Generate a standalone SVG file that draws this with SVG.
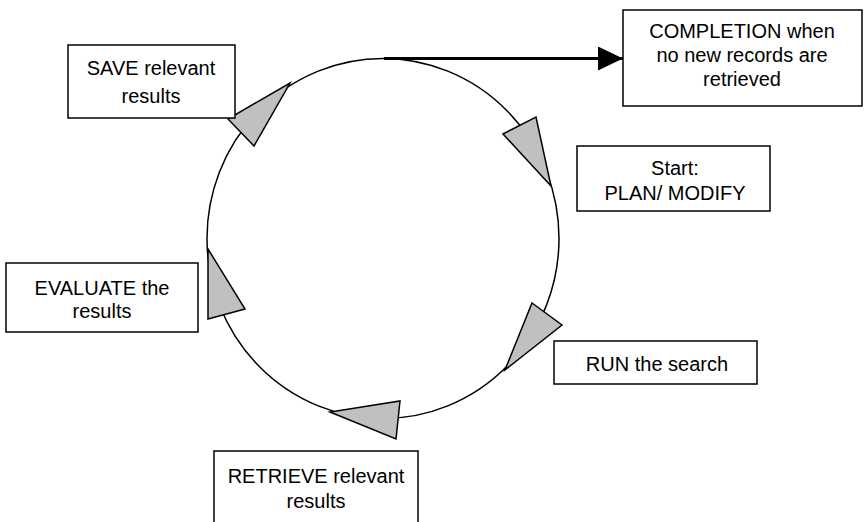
<svg xmlns="http://www.w3.org/2000/svg" width="864" height="522" viewBox="0 0 864 522">
<style>
.box{fill:#fff;stroke:#000;stroke-width:1.5}
.tri{fill:#c0c0c0;stroke:#000;stroke-width:1.5;stroke-linejoin:miter}
text{font-family:"Liberation Sans","Arial",sans-serif;font-size:20px;fill:#000;text-anchor:middle}
</style>
<defs>
<marker id="ah" markerWidth="26" markerHeight="26" refX="25" refY="12" orient="auto" markerUnits="userSpaceOnUse">
<path d="M0,0 L25,12 L0,24 Z" fill="#000"/>
</marker>
</defs>
<rect width="864" height="522" fill="#fff"/>
<g id="connectors">
<ellipse cx="383" cy="238.5" rx="176" ry="180" fill="none" stroke="#000" stroke-width="1.5"/>
<line x1="384" y1="58.5" x2="623" y2="58.5" stroke="#000" stroke-width="3" marker-end="url(#ah)"/>
<polygon class="tri" points="228,119 290,83 254,146"/>
<polygon class="tri" points="503,134 536,117 551,186"/>
<polygon class="tri" points="532,303 562,325 505,370"/>
<polygon class="tri" points="400,401 396,439 330,412"/>
<polygon class="tri" points="208,249 245,309 208,319"/>
</g>
<g id="completion">
<rect class="box" x="623" y="10" width="239" height="96"/>
<text x="742" y="38">COMPLETION when</text>
<text x="742" y="62">no new records are</text>
<text x="742" y="86">retrieved</text>
</g>
<g id="start">
<rect class="box" x="577" y="146" width="193" height="65"/>
<text x="675" y="175">Start:</text>
<text x="675" y="200">PLAN/ MODIFY</text>
</g>
<g id="run">
<rect class="box" x="554" y="341" width="203" height="43"/>
<text x="657" y="371">RUN the search</text>
</g>
<g id="retrieve">
<rect class="box" x="214" y="451" width="204" height="80"/>
<text x="316" y="483">RETRIEVE relevant</text>
<text x="316" y="508">results</text>
</g>
<g id="evaluate">
<rect class="box" x="6" y="263" width="192" height="69"/>
<text x="102" y="295">EVALUATE the</text>
<text x="102" y="318">results</text>
</g>
<g id="save">
<rect class="box" x="68" y="45" width="167" height="73"/>
<text x="151" y="75">SAVE relevant</text>
<text x="151" y="103">results</text>
</g>
</svg>
